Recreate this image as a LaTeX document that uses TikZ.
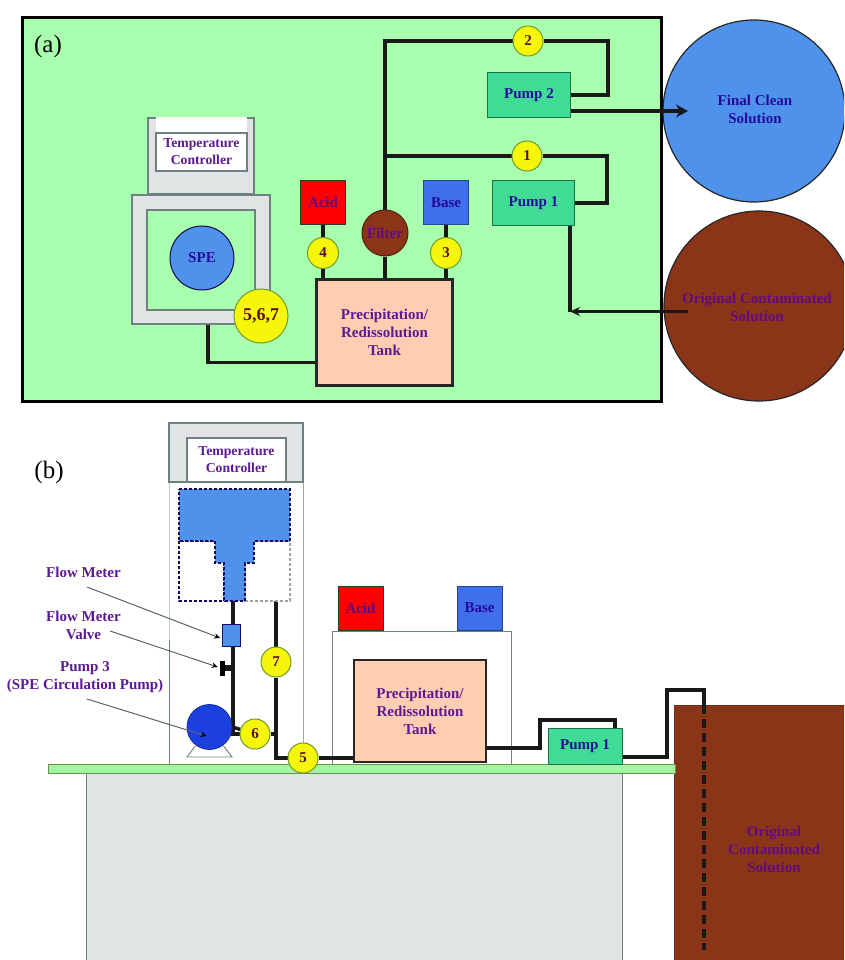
\documentclass[tikz,border=0pt]{standalone}
\usepackage{fontspec}
\setmainfont{Liberation Serif}
\usetikzlibrary{calc,arrows.meta}

\pgfdeclarelayer{back}
\pgfdeclarelayer{mid}
\pgfsetlayers{back,mid,main}

\tikzset{
    lbl/.style={font=\fontsize{15}{18}\selectfont\bfseries, align=center, inner sep=0pt},
    smalllbl/.style={lbl, font=\fontsize{13.7}{17}\selectfont\bfseries, text=C9},
    pipe/.style={draw=black!90, line width=3.4pt},
    thinline/.style={draw=C5, line width=0.9pt},
    leader/.style={draw=C5!80!black, line width=1pt, -{Stealth[black, length=6pt, width=5.5pt]}},
    tag/.style={lbl, draw=C6, line width=1pt, shape=circle, fill=C7, text=C8},
    boxed/.style={lbl, draw=black!80, line width=1pt},
    tank/.style={boxed, draw=black!85, line width=2.4pt, fill=C3, text=C9, minimum width=136pt, minimum height=106pt},
    pumpbox/.style={boxed, draw=C4!50!black, fill=C4, text=C10},
    acidbox/.style={boxed, fill=red, text=C11, minimum width=45pt, minimum height=44pt},
    basebox/.style={boxed, draw=C1!60!black, fill=C1, text=C10, minimum width=45pt, minimum height=44pt},
    shell/.style={draw=C5, line width=1.1pt, fill=C2},
    hole/.style={draw=C5, line width=1.1pt},
    dashbox/.style={draw=C10!60!black, line width=1.4pt, densely dashed, fill=white}
}

\begin{document}
\begin{tikzpicture}[x=1pt, y=-1pt]
    \definecolor{C0}{HTML}{A8FFAE}
    \definecolor{C1}{HTML}{3F6FEA}
    \definecolor{C2}{HTML}{E0E4E4}
    \definecolor{C3}{HTML}{FFCDB2}
    \definecolor{C4}{HTML}{40DC96}
    \definecolor{C5}{HTML}{6F8080}
    \definecolor{C6}{HTML}{6E9A30}
    \definecolor{C7}{HTML}{F6F60A}
    \definecolor{C8}{HTML}{5A1010}
    \definecolor{C9}{HTML}{5B1A90}
    \definecolor{C10}{HTML}{240C9A}
    \definecolor{C11}{HTML}{620A80}
    \definecolor{C12}{HTML}{4F92EC}
    \definecolor{C13}{HTML}{8B3518}
    \definecolor{C14}{HTML}{1C3FE0}

    \clip (0,0) rectangle (844,960);

    % top view
    \begin{pgfonlayer}{back}
        \path[fill=white] (0,0) rectangle (844,960);
        \path[draw=black, line width=3pt, fill=C0] (22,18) rectangle (661,401);
    \end{pgfonlayer}
    \node[font=\fontsize{25}{28}\selectfont, inner sep=0pt] (taga) at (48,46) {(a)};

    \node[lbl, draw=black!85, line width=1.2pt, shape=circle, fill=C12, minimum size=182pt, text=C10] (clean) at (754,111) {};
    \node[lbl, text=C10] (cleantxt) at (755,109) {Final Clean\\Solution};
    \node[draw=black!85, line width=1.2pt, shape=circle, fill=C13, minimum size=190pt, inner sep=0pt] (orig) at (759,306) {};

    \node[pumpbox, minimum width=83pt, minimum height=45pt] (pump2) at (529,95) {Pump 2};
    \node[pumpbox, minimum width=82pt, minimum height=44pt] (pump1) at (533.5,203) {Pump 1};
    \node[tag, minimum size=30pt] (n2) at (528,41) {2};
    \node[tag, minimum size=30pt] (n1) at (527,156) {1};

    \node[acidbox] (acida) at (323,202.5) {Acid};
    \node[basebox] (basea) at (446,202.5) {Base};
    \node[lbl, draw=C13!60!black, line width=1pt, shape=circle, fill=C13, minimum size=46pt, text=C11] (filter) at (385,233) {Filter};
    \node[tag, minimum size=31pt] (n4) at (323,253) {4};
    \node[tag, minimum size=31pt] (n3) at (446,253) {3};
    \node[tank] (tanka) at (384.5,332.5) {Precipitation/\\Redissolution\\Tank};

    \path[shell] (148,118) rectangle (254,194);
    \path[fill=white] (156,117) rectangle (247,171);
    \node[smalllbl, hole, minimum width=91pt, minimum height=38pt] (tempa) at (201.5,152) {Temperature\\Controller};
    \node[shell, inner sep=0pt, minimum width=138pt, minimum height=129pt] (spebox) at (201,259.5) {};
    \node[hole, fill=C0, inner sep=0pt, minimum width=108pt, minimum height=100pt] (speinner) at (201,260) {};
    \node[lbl, draw=C10!50!black, line width=1pt, shape=circle, fill=C12, minimum size=64pt, text=C10] (spe) at (202,258) {SPE};
    \node[tag, minimum size=54pt, font=\fontsize{18}{20}\selectfont\bfseries] (n567) at (261,316) {5,6,7};

    \begin{pgfonlayer}{mid}
        \path[pipe] (filter.north) |- (n2) -| ($ (pump2.east) + (37,0) $) -- (pump2.east);
        \path[pipe] (filter.north) |- (n1) -| ($ (pump1.east) + (32,0) $) -- (pump1.east);
        \path[pipe] (acida.south) -- (acida.south |- tanka.north);
        \path[pipe] (basea.south) -- (basea.south |- tanka.north);
        \path[pipe] (filter.south) -- (filter.south |- tanka.north);
        \path[pipe] ($ (spebox.south) + (7,0) $) |- ($ (tanka.west) + (0,30) $);
    \end{pgfonlayer}

    \coordinate (origstart) at (688,311.5);
    \coordinate (origend) at (570,311.5);
    \coordinate (cleanend) at (688,111);
    \path[pipe, -{Stealth[length=12pt, width=13pt]}] ($ (pump2.east) + (0,16) $) -- (cleanend);
    \path[pipe] ($ (pump1.south) + (36.5,0) $) -- (origend);
    \path[pipe, -{Stealth[length=10pt, width=9pt]}] (origstart) -- (origend);
    \node[lbl, text=C11] (origtxt) at (757,307.5) {Original Contaminated\\Solution};

    % side view
    \node[font=\fontsize{25}{28}\selectfont, inner sep=0pt] (tagb) at (49,472) {(b)};

    \begin{pgfonlayer}{back}
        \path[thinline, draw=C5!40] (169,482) -- (169,640);
        \path[thinline] (169,640) -- (169,765) -- (303,765);
        \path[thinline, draw=C5!70] (303,482) -- (303,765);
        \path[thinline] (332,765) -- (332,631) -- (511,631) -- (511,765);
    \end{pgfonlayer}
    \path[shell] (169,423) rectangle (303,482);
    \node[smalllbl, hole, fill=white, minimum width=99pt, minimum height=44pt] (tempb) at (236.5,460) {Temperature\\Controller};

    \path[dashbox] (179,541) rectangle (224,601);
    \path[dashbox, draw=C5!70] (245,541) rectangle (290,601);
    \path[dashbox, fill=C12] (179,489) -- (290,489) -- (290,541) -- (254,541) -- (254,563) -- (245,563) -- (245,601) -- (224,601) -- (224,563) -- (215,563) -- (215,541) -- (179,541) -- cycle;
    \coordinate (speout) at (233,601);
    \coordinate (spein) at (276,601);

    \node[acidbox] (acidb) at (360.5,608) {Acid};
    \node[basebox] (baseb) at (479.5,608) {Base};

    \node[draw=C5, line width=1pt, fill=C2, inner sep=0pt, minimum width=536pt, minimum height=200pt, anchor=north west] (bench) at (86,772) {};
    \node[lbl, draw=C13!80!black, line width=0.8pt, fill=C13, minimum width=172pt, minimum height=257pt, anchor=north west] (origb) at (674,705) {};
    \node[lbl, text=C11] (origbtxt) at (774,849) {Original\\Contaminated\\Solution};
    \node[draw=C6!60!C5, line width=1pt, fill=C0!90!C6, inner sep=0pt, minimum width=627pt, minimum height=9pt, anchor=north west] (shelf) at (48,764) {};

    \node[tank, minimum width=132pt, minimum height=102pt] (tankb) at (420,711) {Precipitation/\\Redissolution\\Tank};
    \node[pumpbox, minimum width=74pt, minimum height=36pt] (pumpb) at (585,746) {Pump 1};

    \node[draw=C10!70!black, line width=0.8pt, fill=C12, inner sep=0pt, minimum width=18pt, minimum height=22pt] (meter) at (231.5,635) {};
    \node[fill=black, inner sep=0pt, minimum width=5pt, minimum height=15pt] (valve) at (222.5,668) {};
    \node[draw=C14!70!black, line width=0.8pt, shape=circle, fill=C14, minimum size=45pt, inner sep=0pt] (pump3) at (209.5,727) {};
    \node[tag, minimum size=30pt] (n7) at (276,662) {7};
    \node[tag, minimum size=30pt] (n6) at (255,734) {6};
    \node[tag, minimum size=30pt] (n5) at (303,758) {5};

    % pump foot
    \path[thinline] ($ (pump3.south) + (-14,-4) $) -- (187,757) -- (232,757) -- ($ (pump3.south) + (14,-4) $);

    \begin{pgfonlayer}{mid}
        \path[pipe] (speout) -- (meter.north -| speout);
        \path[pipe] (meter.south -| speout) -- (speout |- n6) -- (n6);
        \path[pipe] (pump3.east) -- (n6);
        \path[pipe] (spein) -- (n7) -- (spein |- n5) -- (n5) -- (n5 -| tankb.west);
        \path[pipe] (n6) -- (n6 -| spein);
        \path[pipe, line width=6pt] (valve) -- (valve -| speout);
        \path[pipe] ($ (tankb.east) + (0,37) $) -| (540,720) -| ($ (pumpb.north) + (30,0) $);
        \path[pipe] ($ (pumpb.east) + (0,11) $) -| (667,690) -| (origb.north -| 704,690);
    \end{pgfonlayer}
    \path[pipe, dash pattern=on 9pt off 5pt] (704,705) -- (704,950);

    \node[lbl, text=C9] (meterlbl) at (83.5,572) {Flow Meter};
    \node[lbl, text=C9] (valvelbl) at (83.5,625) {Flow Meter\\Valve};
    \node[lbl, text=C9] (pumplbl) at (85,677) {Pump 3\\(SPE Circulation Pump)};

    \path[leader] (87,587) -- ($ (meter.west) + (-2,3) $);
    \path[leader] (110,631) -- ($ (valve.west) + (-2,-1) $);
    \path[leader] (87,699) -- ($ (pump3.center) + (-3,9) $);
\end{tikzpicture}
\end{document}
